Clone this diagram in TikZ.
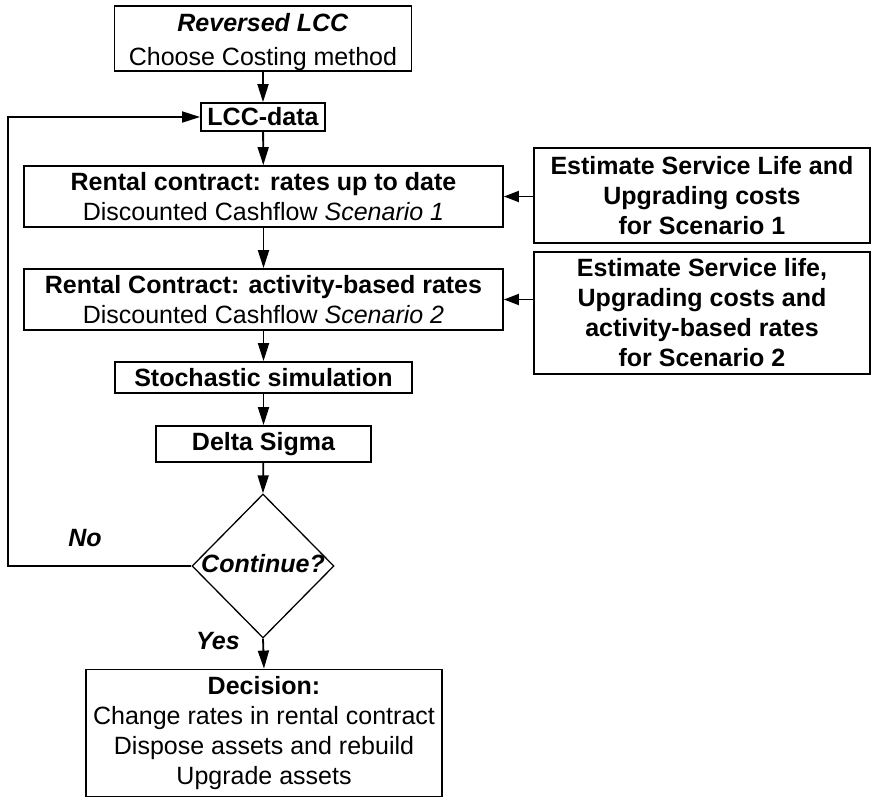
\documentclass[tikz,border=0pt]{standalone}
\usepackage{fontspec}
\setmainfont{Liberation Sans}
\usetikzlibrary{arrows.meta,shapes.geometric}

\begin{document}
\begin{tikzpicture}[x=1pt,y=-1pt,line width=1.8pt,>={Triangle[length=18pt,width=11pt]},
  box/.style={draw,align=center,inner sep=0pt,font=\fontsize{25}{30}\selectfont},
  decide/.style={draw,diamond,line width=1.3pt,inner sep=0pt,text height=12pt,text depth=0pt,
                 minimum width=142pt,minimum height=144pt,font=\fontsize{25}{30}\selectfont\bfseries\itshape},
  answer/.style={font=\fontsize{25}{30}\selectfont\bfseries\itshape}]

	\useasboundingbox (0,0) rectangle (871,798);

	% main column
	\node[box,minimum width=297pt,minimum height=65pt] (start) at (263,38.5)
	      {\rule{0pt}{26pt}\textbf{\textit{Reversed LCC}}\\[4pt] Choose Costing method};
	\node[box,minimum width=124pt,minimum height=28pt,font=\fontsize{25}{30}\selectfont\bfseries] (lcc) at (263,117) {LCC-data};
	\node[box,minimum width=479pt,minimum height=61pt] (rent1) at (263.5,196.5)
	      {\textbf{Rental contract: rates up to date}\\ Discounted Cashflow \textit{Scenario 1}};
	\node[box,minimum width=479pt,minimum height=61pt] (rent2) at (263.5,299.5)
	      {\textbf{Rental Contract: activity-based rates}\\ Discounted Cashflow \textit{Scenario 2}};
	\node[box,minimum width=297pt,minimum height=31pt,font=\fontsize{25}{30}\selectfont\bfseries] (stoch) at (263.5,377.5) {Stochastic simulation};
	\node[box,minimum width=215pt,minimum height=36pt,font=\fontsize{25}{30}\selectfont\bfseries] (delta) at (263.5,444) {Delta Sigma};
	\node[decide] (cont) at (263,566) {Continue?};
	\node[box,minimum width=356pt,minimum height=127pt] (dec) at (264,733)
	      {\textbf{Decision:}\\ Change rates in rental contract\\ Dispose assets and rebuild\\ Upgrade assets};

	% estimates on the right
	\node[box,minimum width=336pt,minimum height=95pt,font=\fontsize{25}{30}\selectfont\bfseries] (est1) at (702,195.5)
	      {Estimate Service Life and\\ Upgrading costs\\ for Scenario 1};
	\node[box,minimum width=336pt,minimum height=122pt,font=\fontsize{25}{30}\selectfont\bfseries] (est2) at (702,313)
	      {Estimate Service life,\\ Upgrading costs and\\ activity-based rates\\ for Scenario 2};

	% answers of the decision
	\node[answer] (no) at (85,538) {No};
	\node[answer] (yes) at (218,641) {Yes};

	% arrows
	\draw[->] (start) -- (lcc);
	\draw[->] (lcc) -- (rent1);
	\draw[->] (rent1) -- (rent2);
	\draw[->] (rent2) -- (stoch);
	\draw[->] (stoch) -- (delta);
	\draw[->] (delta) -- (cont.north);
	\draw[->] (cont.south) -- (dec.north);
	\draw[->,>={Triangle[length=15pt,width=11pt]}] (est1.west |- rent1) -- (rent1.east);
	\draw[->,>={Triangle[length=15pt,width=11pt]}] (est2.west |- rent2) -- (rent2.east);

	% loop back for another run
	\coordinate (back) at (8,566);
	\draw[->] (cont.west) -- (back) |- (lcc.west);

\end{tikzpicture}
\end{document}
